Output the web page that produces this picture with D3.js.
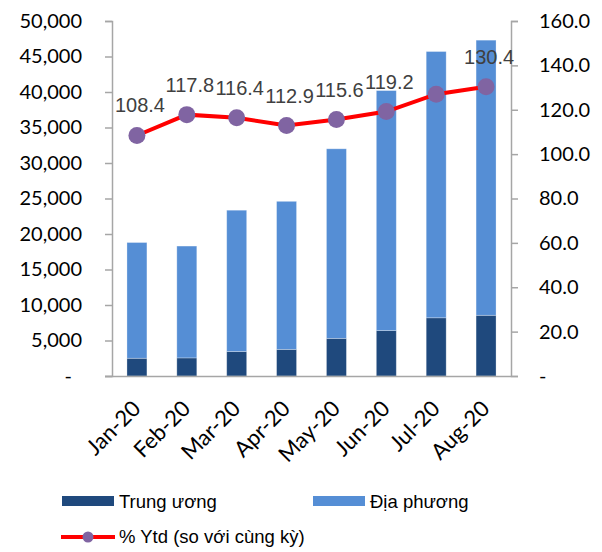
<!DOCTYPE html>
<html>
<head>
<meta charset="utf-8">
<script src="https://cdn.jsdelivr.net/npm/d3@7"></script>
<style>
  body { margin: 0; background: #fff; }
  svg { display: block; }
</style>
</head>
<body>
<script>
// data
var months = ['Jan-20', 'Feb-20', 'Mar-20', 'Apr-20', 'May-20', 'Jun-20', 'Jul-20', 'Aug-20'];
var trungUong = [2500, 2550, 3450, 3750, 5300, 6400, 8200, 8550];
var diaPhuong = [16300, 15750, 19900, 20850, 26700, 33800, 37500, 38750];
var ytd = [108.4, 117.8, 116.4, 112.9, 115.6, 119.2, 127.0, 130.4];
var ytdLabels = ['108.4', '117.8', '116.4', '112.9', '115.6', '119.2', null, '130.4'];
var leftTicks = [0, 5000, 10000, 15000, 20000, 25000, 30000, 35000, 40000, 45000, 50000];
var rightTicks = [0, 20, 40, 60, 80, 100, 120, 140, 160];
var seriesNames = ['Trung ương', 'Địa phương', '% Ytd (so với cùng kỳ)'];

var width = 602, height = 552;
var margin = { top: 21, right: 91, bottom: 176, left: 112 };
var plotW = width - margin.left - margin.right;
var plotH = height - margin.top - margin.bottom;
var axisColor = '#a6a6a6';
var darkBlue = '#1f497d', lightBlue = '#558ed5';

var svg = d3.select('body')
  .append('svg')
  .attr('width', width)
  .attr('height', height);

var g = svg.append('g')
  .attr('transform', 'translate(' + margin.left + ',' + margin.top + ')');

var x = d3.scaleBand()
  .domain(months)
  .range([0, plotW])
  .paddingInner(0.6)
  .paddingOuter(0.3);

var yLeft = d3.scaleLinear().domain([0, 50000]).range([plotH, 0]);
var yRight = d3.scaleLinear().domain([0, 160]).range([plotH, 0]);

// stacked bars
var rows = months.map(function(m, i) {
  return { month: m, tu: trungUong[i], dp: diaPhuong[i] };
});
var stack = d3.stack().keys(['tu', 'dp'])(rows);
var colors = { tu: darkBlue, dp: lightBlue };

g.selectAll('g.layer')
  .data(stack)
  .enter()
  .append('g')
  .attr('class', 'layer')
  .attr('fill', function(d) { return colors[d.key]; })
  .selectAll('rect')
  .data(function(d) { return d; })
  .enter()
  .append('rect')
  .attr('x', function(d) { return x(d.data.month); })
  .attr('width', x.bandwidth())
  .attr('y', function(d) { return yLeft(d[1]); })
  .attr('height', function(d) { return yLeft(d[0]) - yLeft(d[1]); })
  .attr('stroke', '#ffffff')
  .attr('stroke-opacity', 0.35)
  .attr('stroke-width', 0.8);

// axes
var leftAxis = d3.axisLeft(yLeft)
  .tickValues(leftTicks)
  .tickSize(7)
  .tickPadding(23)
  .tickFormat(function(d) { return d === 0 ? '-' : d3.format(',')(d); });

var rightAxis = d3.axisRight(yRight)
  .tickValues(rightTicks)
  .tickSize(7)
  .tickPadding(21)
  .tickFormat(function(d) { return d === 0 ? '-' : d3.format('.1f')(d); });

var bottomAxis = d3.axisBottom(x).tickSize(0).tickPadding(0);

var leftNodes = g.append('g').call(leftAxis);
var rightNodes = g.append('g').attr('transform', 'translate(' + plotW + ',0)').call(rightAxis);
var bottomNodes = g.append('g').attr('transform', 'translate(0,' + plotH + ')').call(bottomAxis);

styleAxisNodes(leftNodes);
styleAxisNodes(rightNodes);
styleAxisNodes(bottomNodes);

// the "-" for zero sits a bit left of the other numbers
leftNodes.selectAll('.tick text')
  .filter(function(d) { return d === 0; })
  .attr('dx', -10);

bottomNodes.select('.domain').attr('d', 'M-7,0.5H' + plotW);

bottomNodes.selectAll('text')
  .style('text-anchor', 'end')
  .style('font-size', '22px')
  .attr('dy', 0)
  .attr('transform', 'translate(5,34) rotate(-45)');

// line + markers
var line = d3.line()
  .x(function(d, i) { return x(months[i]) + x.bandwidth() / 2; })
  .y(function(d) { return yRight(d); });

g.append('path')
  .datum(ytd)
  .attr('d', line)
  .attr('fill', 'none')
  .attr('stroke', '#ff0000')
  .attr('stroke-width', 4);

g.selectAll('circle.pt')
  .data(ytd)
  .enter()
  .append('circle')
  .attr('class', 'pt')
  .attr('cx', function(d, i) { return x(months[i]) + x.bandwidth() / 2; })
  .attr('cy', function(d) { return yRight(d); })
  .attr('r', 8.5)
  .attr('fill', '#8064a2');

g.selectAll('text.lbl')
  .data(ytd)
  .enter()
  .filter(function(d, i) { return ytdLabels[i] !== null; })
  .append('text')
  .attr('class', 'lbl')
  .attr('x', function(d) { var i = ytd.indexOf(d); return x(months[i]) + x.bandwidth() / 2 + 3; })
  .attr('y', function(d) { return yRight(d) - 23; })
  .attr('text-anchor', 'middle')
  .style('font-family', 'Liberation Sans, Arial, sans-serif')
  .style('font-size', '20px')
  .attr('fill', '#404040')
  .text(function(d) { return ytdLabels[ytd.indexOf(d)]; });

// legend
var legend = svg.append('g')
  .style('font-family', 'Liberation Sans, Arial, sans-serif')
  .style('font-size', '18.5px')
  .attr('fill', '#000');

legend.append('rect').attr('x', 62).attr('y', 496).attr('width', 52).attr('height', 10).attr('fill', darkBlue);
legend.append('text').attr('x', 119).attr('y', 508).text(seriesNames[0]);

legend.append('rect').attr('x', 313).attr('y', 496).attr('width', 52).attr('height', 10).attr('fill', lightBlue);
legend.append('text').attr('x', 370).attr('y', 508).text(seriesNames[1]);

legend.append('line').attr('x1', 61).attr('x2', 115).attr('y1', 537).attr('y2', 537)
  .attr('stroke', '#ff0000').attr('stroke-width', 4);
legend.append('circle').attr('cx', 88).attr('cy', 537).attr('r', 5.5).attr('fill', '#8064a2');
legend.append('text').attr('x', 119).attr('y', 543).text(seriesNames[2]);

function styleAxisNodes(axisNodes) {
  axisNodes.selectAll('.domain')
    .attr('stroke', axisColor)
    .attr('stroke-width', 1.5);
  axisNodes.selectAll('.tick line')
    .attr('stroke', axisColor)
    .attr('stroke-width', 1.5);
  axisNodes.selectAll('text')
    .attr('fill', '#000')
    .style('font-family', 'Lato, Carlito, Calibri, sans-serif')
    .style('font-size', '20px');
}
</script>
</body>
</html>
